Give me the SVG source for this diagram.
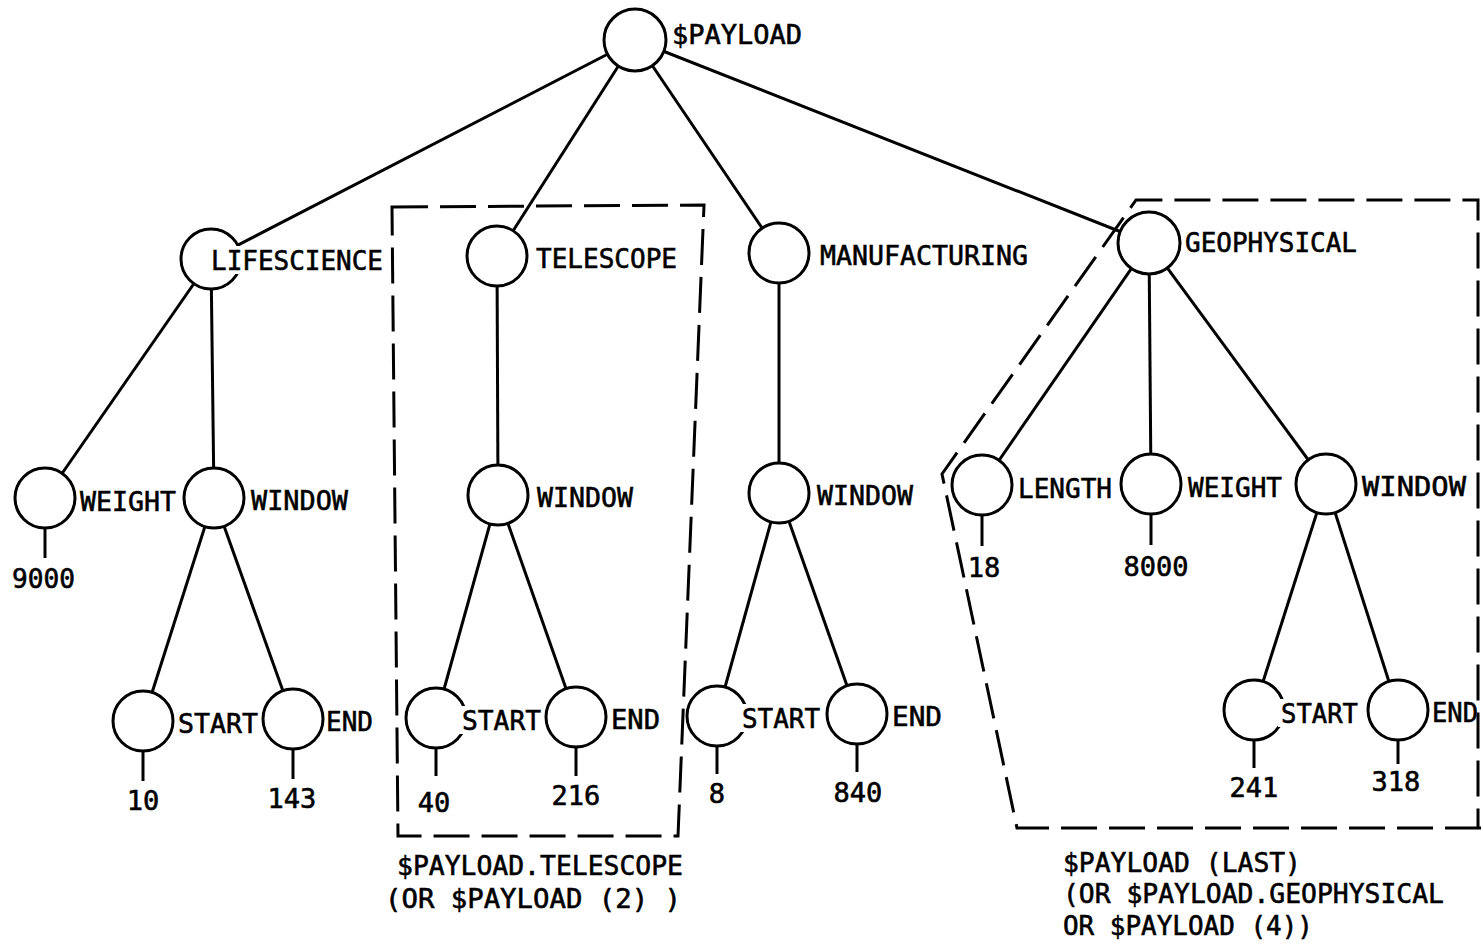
<svg xmlns="http://www.w3.org/2000/svg" width="1481" height="946" viewBox="0 0 1481 946">
<style>
.n{fill:#fff;stroke:#000;stroke-width:3}
.e{stroke:#000;stroke-width:3;fill:none}
.b{stroke:#000;stroke-width:3;fill:none;stroke-dasharray:36 12}
.w{fill:#fff}
text{font-family:"DejaVu Sans Mono","Liberation Mono",monospace;font-size:27px;fill:#000;stroke:#000;stroke-width:0.6}
.c{text-anchor:middle}
</style>
<rect width="1481" height="946" fill="#fff"/>
<g id="boxes">
<polygon class="b" points="392,207 704,205 678,836 398,836"/>
<polyline class="b" points="1481,828 1017,828 942,474 1136,200 1478,200 1478,828"/>
</g>
<g id="connectors">
<line class="e" x1="635" y1="40" x2="211" y2="259"/>
<line class="e" x1="635" y1="40" x2="497" y2="256"/>
<line class="e" x1="635" y1="40" x2="779" y2="253"/>
<line class="e" x1="635" y1="40" x2="1149" y2="243"/>
<line class="e" x1="211" y1="259" x2="45" y2="498"/>
<line class="e" x1="211" y1="259" x2="214" y2="498"/>
<line class="e" x1="214" y1="498" x2="143" y2="721"/>
<line class="e" x1="214" y1="498" x2="293" y2="719"/>
<line class="e" x1="497" y1="256" x2="498" y2="495"/>
<line class="e" x1="498" y1="495" x2="436" y2="718"/>
<line class="e" x1="498" y1="495" x2="576" y2="717"/>
<line class="e" x1="779" y1="253" x2="779" y2="493"/>
<line class="e" x1="779" y1="493" x2="717" y2="716"/>
<line class="e" x1="779" y1="493" x2="857" y2="714"/>
<line class="e" x1="1149" y1="243" x2="982" y2="485"/>
<line class="e" x1="1149" y1="243" x2="1151" y2="484"/>
<line class="e" x1="1149" y1="243" x2="1326" y2="484"/>
<line class="e" x1="1326" y1="484" x2="1254" y2="710"/>
<line class="e" x1="1326" y1="484" x2="1398" y2="710"/>
<line class="e" x1="45" y1="528" x2="45" y2="558"/>
<line class="e" x1="143" y1="751" x2="143" y2="781"/>
<line class="e" x1="293" y1="749" x2="293" y2="779"/>
<line class="e" x1="436" y1="748" x2="436" y2="776"/>
<line class="e" x1="576" y1="747" x2="576" y2="776"/>
<line class="e" x1="717" y1="746" x2="717" y2="774"/>
<line class="e" x1="857" y1="744" x2="857" y2="772"/>
<line class="e" x1="982" y1="515" x2="982" y2="546"/>
<line class="e" x1="1151" y1="514" x2="1151" y2="545"/>
<line class="e" x1="1254" y1="740" x2="1254" y2="768"/>
<line class="e" x1="1398" y1="740" x2="1398" y2="764"/>
</g>
<g id="payload"><circle class="n" cx="635" cy="40" r="31"/><text x="672" y="44" textLength="130" lengthAdjust="spacingAndGlyphs">$PAYLOAD</text></g>
<g id="lifescience"><circle class="n" cx="211" cy="259" r="30"/><rect class="w" x="208" y="246" width="178" height="28"/><text x="211" y="270" textLength="172" lengthAdjust="spacingAndGlyphs">LIFESCIENCE</text></g>
<g id="telescope"><circle class="n" cx="497" cy="256" r="30"/><text x="536" y="268" textLength="141" lengthAdjust="spacingAndGlyphs">TELESCOPE</text></g>
<g id="manufacturing"><circle class="n" cx="779" cy="253" r="30"/><text x="820" y="265" textLength="208" lengthAdjust="spacingAndGlyphs">MANUFACTURING</text></g>
<g id="geophysical"><circle class="n" cx="1149" cy="243" r="31"/><text x="1185" y="252" textLength="172" lengthAdjust="spacingAndGlyphs">GEOPHYSICAL</text></g>
<g id="ls-weight"><circle class="n" cx="45" cy="498" r="30"/><text x="80" y="511" textLength="96" lengthAdjust="spacingAndGlyphs">WEIGHT</text><text x="12" y="588" textLength="63" lengthAdjust="spacingAndGlyphs">9000</text></g>
<g id="ls-window"><circle class="n" cx="214" cy="498" r="30"/><text x="251" y="510" textLength="97" lengthAdjust="spacingAndGlyphs">WINDOW</text></g>
<g id="ls-start"><circle class="n" cx="143" cy="721" r="30"/><text x="178" y="733" textLength="80" lengthAdjust="spacingAndGlyphs">START</text><text class="c" x="143" y="810">10</text></g>
<g id="ls-end"><circle class="n" cx="293" cy="719" r="30"/><text x="326" y="731" textLength="47" lengthAdjust="spacingAndGlyphs">END</text><text class="c" x="292" y="808">143</text></g>
<g id="tl-window"><circle class="n" cx="498" cy="495" r="30"/><text x="537" y="507" textLength="96" lengthAdjust="spacingAndGlyphs">WINDOW</text></g>
<g id="tl-start"><circle class="n" cx="436" cy="718" r="30"/><rect class="w" x="459" y="706" width="82" height="28"/><text x="462" y="730" textLength="79" lengthAdjust="spacingAndGlyphs">START</text><text class="c" x="434" y="812">40</text></g>
<g id="tl-end"><circle class="n" cx="576" cy="717" r="30"/><text x="611" y="729" textLength="49" lengthAdjust="spacingAndGlyphs">END</text><text class="c" x="576" y="805">216</text></g>
<g id="mf-window"><circle class="n" cx="779" cy="493" r="30"/><text x="817" y="505" textLength="96" lengthAdjust="spacingAndGlyphs">WINDOW</text></g>
<g id="mf-start"><circle class="n" cx="717" cy="716" r="30"/><rect class="w" x="739" y="704" width="81" height="28"/><text x="742" y="728" textLength="78" lengthAdjust="spacingAndGlyphs">START</text><text class="c" x="717" y="803">8</text></g>
<g id="mf-end"><circle class="n" cx="857" cy="714" r="30"/><text x="892" y="726" textLength="50" lengthAdjust="spacingAndGlyphs">END</text><text class="c" x="858" y="802">840</text></g>
<g id="gp-length"><circle class="n" cx="982" cy="485" r="30"/><text x="1018" y="498" textLength="94" lengthAdjust="spacingAndGlyphs">LENGTH</text><text class="c" x="984" y="577">18</text></g>
<g id="gp-weight"><circle class="n" cx="1151" cy="484" r="30"/><text x="1188" y="497" textLength="94" lengthAdjust="spacingAndGlyphs">WEIGHT</text><text class="c" x="1156" y="576">8000</text></g>
<g id="gp-window"><circle class="n" cx="1326" cy="484" r="30"/><text x="1362" y="496" textLength="104" lengthAdjust="spacingAndGlyphs">WINDOW</text></g>
<g id="gp-start"><circle class="n" cx="1254" cy="710" r="30"/><rect class="w" x="1278" y="699" width="80" height="28"/><text x="1281" y="723" textLength="77" lengthAdjust="spacingAndGlyphs">START</text><text class="c" x="1254" y="797">241</text></g>
<g id="gp-end"><circle class="n" cx="1398" cy="710" r="30"/><text x="1432" y="722" textLength="46" lengthAdjust="spacingAndGlyphs">END</text><text class="c" x="1396" y="791">318</text></g>
<g id="captions">
<text x="397" y="875" textLength="286" lengthAdjust="spacingAndGlyphs">$PAYLOAD.TELESCOPE</text>
<text x="385" y="908" textLength="296" lengthAdjust="spacingAndGlyphs">(OR $PAYLOAD (2) )</text>
<text x="1063" y="872" textLength="238" lengthAdjust="spacingAndGlyphs">$PAYLOAD (LAST)</text>
<text x="1063" y="903" textLength="381" lengthAdjust="spacingAndGlyphs">(OR $PAYLOAD.GEOPHYSICAL</text>
<text x="1063" y="935" textLength="250" lengthAdjust="spacingAndGlyphs">OR $PAYLOAD (4))</text>
</g>
</svg>
